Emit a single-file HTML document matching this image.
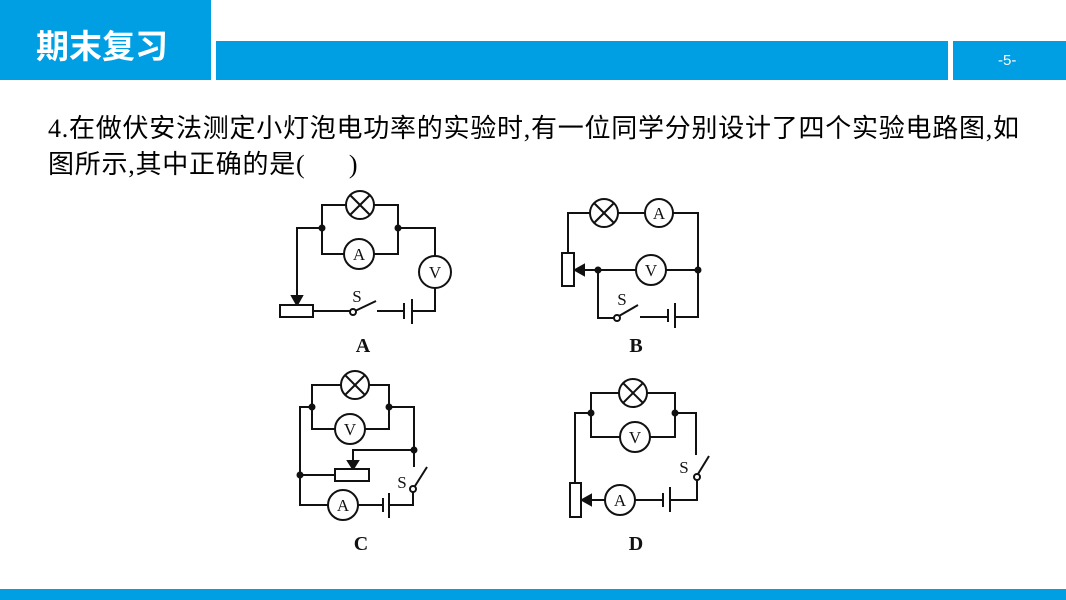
<!DOCTYPE html>
<html><head><meta charset="utf-8"><style>
body{margin:0;width:1066px;height:600px;background:#fff;position:relative;overflow:hidden;font-family:"Liberation Serif","Noto Serif CJK SC",serif}
.b{position:absolute;background:#009fe3}
.t{position:absolute;left:48px;font-size:26px;color:#000;white-space:nowrap;letter-spacing:0.75px;font-family:"Liberation Serif","Noto Sans CJK SC",sans-serif}
</style></head><body>
<div class="b" style="left:0;top:0;width:211px;height:80px"></div>
<div style="position:absolute;left:36px;top:20px;color:#fff;font-size:33px;font-weight:bold;font-family:'Liberation Sans','Noto Sans CJK SC',sans-serif;letter-spacing:0px">期末复习</div>
<div class="b" style="left:216px;top:41px;width:732px;height:39px"></div>
<div class="b" style="left:953px;top:41px;width:113px;height:39px"></div>
<div style="position:absolute;left:998px;top:52px;color:#fff;font-size:15px;font-family:'Liberation Sans',sans-serif">-5-</div>
<div class="b" style="left:0;top:589px;width:1066px;height:11px"></div>
<div class="t" style="top:108px">4.在做伏安法测定小灯泡电功率的实验时,有一位同学分别设计了四个实验电路图,如</div>
<div class="t" style="top:144px">图所示,其中正确的是(&nbsp;&nbsp;&nbsp;&nbsp;&nbsp;&nbsp;)</div>
<svg width="1066" height="600" style="position:absolute;left:0;top:0" fill="none" stroke="#111" stroke-width="2">
<defs>
<g id="lamp"><circle r="14" fill="#fff"/><line x1="-10" y1="-10" x2="10" y2="10"/><line x1="-10" y1="10" x2="10" y2="-10"/></g>
</defs>
<!-- A -->
<polyline points="346,205 322,205 322,254 344,254"/>
<polyline points="374,205 398,205 398,254 374,254"/>
<polyline points="322,228 297,228 297,298"/>
<polygon points="292,296 302,296 297,305" fill="#111"/>
<rect x="280" y="305" width="33" height="12" fill="#fff"/>
<polyline points="398,228 435,228 435,256"/>
<polyline points="435,288 435,311 412,311"/>
<line x1="412" y1="299" x2="412" y2="324"/>
<line x1="404" y1="303" x2="404" y2="319"/>
<line x1="404" y1="311" x2="377" y2="311"/>
<line x1="313" y1="311" x2="350" y2="311"/>
<line x1="355" y1="311" x2="376" y2="301"/>
<circle cx="353" cy="312" r="3" fill="#fff"/>
<use href="#lamp" x="360" y="205"/>
<circle cx="359" cy="254" r="15" fill="#fff"/>
<circle cx="435" cy="272" r="16" fill="#fff"/>
<circle cx="322" cy="228" r="2.5" fill="#111"/><circle cx="398" cy="228" r="2.5" fill="#111"/>
<!-- B -->
<polyline points="568,253 568,213 698,213 698,317 675,317"/>
<line x1="675" y1="303" x2="675" y2="328"/>
<line x1="668" y1="309" x2="668" y2="322"/>
<line x1="668" y1="317" x2="640" y2="317"/>
<line x1="619" y1="316" x2="638" y2="305"/>
<polyline points="615,318 598,318 598,270"/>
<circle cx="617" cy="318" r="3" fill="#fff"/>
<line x1="698" y1="270" x2="582" y2="270"/>
<polygon points="575,270 584,265 584,275" fill="#111"/>
<rect x="562" y="253" width="12" height="33" fill="#fff"/>
<use href="#lamp" x="604" y="213"/>
<circle cx="659" cy="213" r="14" fill="#fff"/>
<circle cx="651" cy="270" r="15" fill="#fff"/>
<circle cx="598" cy="270" r="2.5" fill="#111"/><circle cx="698" cy="270" r="2.5" fill="#111"/>
<!-- C -->
<polyline points="312,407 312,385 389,385 389,407"/>
<polyline points="312,407 312,429 389,429 389,407"/>
<polyline points="312,407 300,407 300,505 328,505"/>
<polyline points="389,407 414,407 414,467"/>
<polyline points="414,450 353,450 353,462"/>
<polygon points="348,461 358,461 353,469" fill="#111"/>
<line x1="300" y1="475" x2="335" y2="475"/>
<rect x="335" y="469" width="34" height="12" fill="#fff"/>
<line x1="415" y1="486" x2="427" y2="467"/>
<polyline points="413,492 413,505 389,505"/>
<circle cx="413" cy="489" r="3" fill="#fff"/>
<line x1="389" y1="493" x2="389" y2="518"/>
<line x1="383" y1="498" x2="383" y2="512"/>
<line x1="383" y1="505" x2="358" y2="505"/>
<use href="#lamp" x="355" y="385"/>
<circle cx="350" cy="429" r="15" fill="#fff"/>
<circle cx="343" cy="505" r="15" fill="#fff"/>
<circle cx="312" cy="407" r="2.5" fill="#111"/><circle cx="389" cy="407" r="2.5" fill="#111"/>
<circle cx="300" cy="475" r="2.5" fill="#111"/><circle cx="414" cy="450" r="2.5" fill="#111"/>
<!-- D -->
<polyline points="591,413 591,393 675,393 675,413"/>
<polyline points="591,413 591,437 675,437 675,413"/>
<polyline points="591,413 575,413 575,483"/>
<polyline points="675,413 696,413 696,455"/>
<line x1="698" y1="474" x2="709" y2="456"/>
<polyline points="697,480 697,500 670,500"/>
<circle cx="697" cy="477" r="3" fill="#fff"/>
<line x1="670" y1="487" x2="670" y2="512"/>
<line x1="663" y1="493" x2="663" y2="507"/>
<line x1="663" y1="500" x2="589" y2="500"/>
<polygon points="582,500 591,495 591,505" fill="#111"/>
<rect x="570" y="483" width="11" height="34" fill="#fff"/>
<use href="#lamp" x="633" y="393"/>
<circle cx="635" cy="437" r="15" fill="#fff"/>
<circle cx="620" cy="500" r="15" fill="#fff"/>
<circle cx="591" cy="413" r="2.5" fill="#111"/><circle cx="675" cy="413" r="2.5" fill="#111"/>
<g font-family="Liberation Serif" font-size="17" fill="#111" stroke="none" text-anchor="middle">
<text x="359" y="260">A</text><text x="435" y="278">V</text><text x="357" y="302">S</text>
<text x="659" y="219">A</text><text x="651" y="276">V</text><text x="622" y="305">S</text>
<text x="350" y="435">V</text><text x="343" y="511">A</text><text x="402" y="488">S</text>
<text x="635" y="443">V</text><text x="620" y="506">A</text><text x="684" y="473">S</text>
</g>
<g font-family="Liberation Serif" font-size="20" font-weight="bold" fill="#111" stroke="none" text-anchor="middle">
<text x="363" y="352">A</text><text x="636" y="352">B</text><text x="361" y="550">C</text><text x="636" y="550">D</text>
</g>
</svg>
</body></html>
